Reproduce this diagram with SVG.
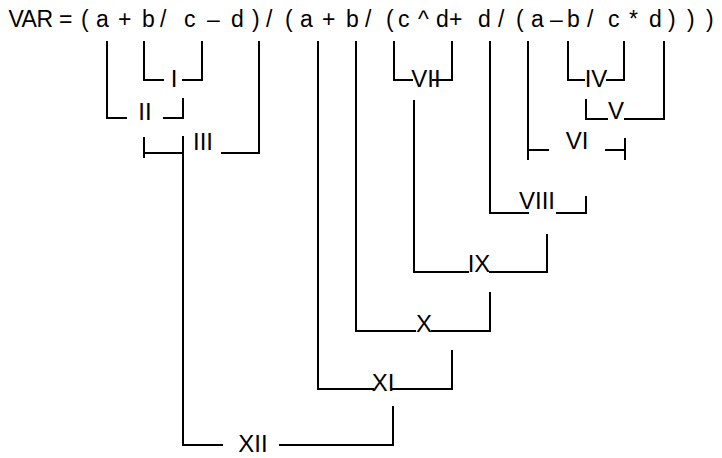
<svg xmlns="http://www.w3.org/2000/svg" width="722" height="458" viewBox="0 0 722 458">
<style>
.t{font-family:"Liberation Sans",Arial,sans-serif;font-size:23px;fill:#000}
.lb{font-family:"Liberation Sans",Arial,sans-serif;font-size:24px;fill:#000;text-anchor:middle}
.c path{fill:none;stroke:#000;stroke-width:2;stroke-linecap:square;stroke-linejoin:miter}
</style>
<rect width="722" height="458" fill="#fff"/>
<g id="expr">
<text class="t" y="27" x="8.5 21.5 36.5 53 59 72.4 81 88.7 96 108.8 118 131.4 142 154.8 160 166.4 184 195.5 207 219.8 231 243.8 252 259.7 266 272.4 285 292.7 300 312.8 322 335.4 346 358.8 365 371.4 386 393.7 398 409.5 418 428.8 436 449 462.4 478 490.8 498 504.4 516 523.7 531 543.8 550 562.8 567 579.8 587 593.4 608 619.5 629 638 649 661.8 668 675.7 687 694.7 706">VAR = ( a + b / c – d ) / ( a + b / ( c ^ d+ d / ( a – b / c * d ) ) )</text>
</g>
<g id="connectors" class="c">
<path d="M107,42 V118 H126"/>
<path d="M144,42 V80 H163 M183,80 H202 V42"/>
<path d="M164,118 H183 V99"/>
<path d="M144,138 V157 M144,153 H183 M183,137 V445 H222 M222,153 H259 V42"/>
<path d="M394,42 V80 H412 M433,80 H452 V42"/>
<path d="M414,101 V272 H468 M490,272 H547 V235"/>
<path d="M490,42 V213 H528 M557,213 H586 V197"/>
<path d="M568,42 V80 H584 M607,80 H624 V42"/>
<path d="M586,100 V119 H607 M625,119 H664 V42"/>
<path d="M528,42 V159 M528,150 H548 M606,150 H625 M625,139 V159"/>
<path d="M356,42 V331 H415 M432,331 H490 V293"/>
<path d="M318,42 V389 H373 M393,389 H452 V351"/>
<path d="M280,445 H393 V407"/>
</g>
<g id="n1"><text class="lb" x="174" y="87">I</text></g>
<g id="n2"><text class="lb" x="145" y="120">II</text></g>
<g id="n3"><text class="lb" x="203" y="150">III</text></g>
<g id="n4"><text class="lb" x="596" y="87">IV</text></g>
<g id="n5"><text class="lb" x="616" y="119">V</text></g>
<g id="n6"><text class="lb" x="577" y="149">VI</text></g>
<g id="n7"><text class="lb" x="426" y="87">VII</text></g>
<g id="n8"><text class="lb" x="537" y="209">VIII</text></g>
<g id="n9"><text class="lb" x="479" y="272">IX</text></g>
<g id="n10"><text class="lb" x="424" y="332">X</text></g>
<g id="n11"><text class="lb" x="383" y="391">XI</text></g>
<g id="n12"><text class="lb" x="253" y="452">XII</text></g>
</svg>
